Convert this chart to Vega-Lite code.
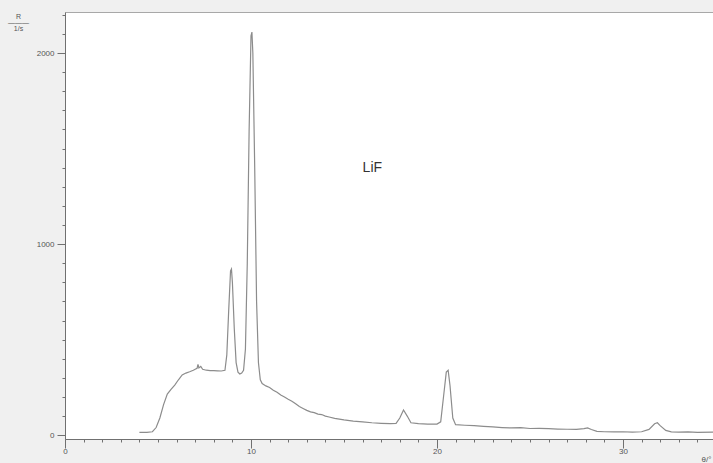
{
  "$schema": "https://vega.github.io/schema/vega-lite/v6.json",
  "autosize": "none",
  "width": 648,
  "height": 427,
  "padding": {"left": 65, "top": 12, "right": 0, "bottom": 24},
  "background": "#f0f0f0",
  "view": {"fill": "white", "stroke": "#a8a8a8", "strokeWidth": 1},
  "config": {"font": "Liberation Sans"},
  "datasets": {
    "spectrum": [
      {"x": 4.0, "y": 15}, {"x": 4.4, "y": 15}, {"x": 4.7, "y": 18}, {"x": 4.9, "y": 40},
      {"x": 5.1, "y": 90}, {"x": 5.3, "y": 160}, {"x": 5.5, "y": 215}, {"x": 5.7, "y": 240},
      {"x": 5.9, "y": 262}, {"x": 6.1, "y": 290}, {"x": 6.3, "y": 315}, {"x": 6.5, "y": 325},
      {"x": 6.7, "y": 332}, {"x": 6.9, "y": 340}, {"x": 7.0, "y": 345}, {"x": 7.1, "y": 350},
      {"x": 7.15, "y": 370}, {"x": 7.2, "y": 352}, {"x": 7.3, "y": 360}, {"x": 7.4, "y": 345},
      {"x": 7.6, "y": 340}, {"x": 7.8, "y": 338}, {"x": 8.0, "y": 338}, {"x": 8.2, "y": 337},
      {"x": 8.4, "y": 336}, {"x": 8.6, "y": 340}, {"x": 8.7, "y": 420}, {"x": 8.8, "y": 650},
      {"x": 8.9, "y": 860}, {"x": 8.95, "y": 870}, {"x": 9.0, "y": 800}, {"x": 9.1, "y": 560},
      {"x": 9.2, "y": 380}, {"x": 9.3, "y": 330}, {"x": 9.4, "y": 320}, {"x": 9.5, "y": 325},
      {"x": 9.6, "y": 340}, {"x": 9.7, "y": 450}, {"x": 9.8, "y": 900}, {"x": 9.9, "y": 1600},
      {"x": 10.0, "y": 2090}, {"x": 10.05, "y": 2110}, {"x": 10.1, "y": 2000}, {"x": 10.2, "y": 1400},
      {"x": 10.3, "y": 700}, {"x": 10.4, "y": 380}, {"x": 10.5, "y": 290}, {"x": 10.6, "y": 270},
      {"x": 10.8, "y": 258}, {"x": 11.0, "y": 250}, {"x": 11.2, "y": 235}, {"x": 11.4, "y": 225},
      {"x": 11.6, "y": 210}, {"x": 11.8, "y": 200}, {"x": 12.0, "y": 188}, {"x": 12.2, "y": 178},
      {"x": 12.4, "y": 165}, {"x": 12.6, "y": 150}, {"x": 12.8, "y": 140}, {"x": 13.0, "y": 130},
      {"x": 13.2, "y": 122}, {"x": 13.4, "y": 118}, {"x": 13.6, "y": 110}, {"x": 13.8, "y": 108},
      {"x": 14.0, "y": 100}, {"x": 14.2, "y": 95}, {"x": 14.5, "y": 88}, {"x": 15.0, "y": 80},
      {"x": 15.5, "y": 74}, {"x": 16.0, "y": 70}, {"x": 16.5, "y": 65}, {"x": 17.0, "y": 62},
      {"x": 17.5, "y": 60}, {"x": 17.8, "y": 62}, {"x": 18.0, "y": 90}, {"x": 18.2, "y": 132},
      {"x": 18.4, "y": 100}, {"x": 18.6, "y": 65}, {"x": 19.0, "y": 60}, {"x": 19.5, "y": 58},
      {"x": 20.0, "y": 58}, {"x": 20.2, "y": 70}, {"x": 20.35, "y": 200}, {"x": 20.5, "y": 330},
      {"x": 20.6, "y": 340}, {"x": 20.7, "y": 260}, {"x": 20.85, "y": 90}, {"x": 21.0, "y": 55},
      {"x": 21.5, "y": 52}, {"x": 22.0, "y": 50}, {"x": 22.5, "y": 46}, {"x": 23.0, "y": 43},
      {"x": 23.5, "y": 40}, {"x": 24.0, "y": 38}, {"x": 24.5, "y": 40}, {"x": 25.0, "y": 35},
      {"x": 25.5, "y": 36}, {"x": 26.0, "y": 34}, {"x": 26.5, "y": 32}, {"x": 27.0, "y": 31},
      {"x": 27.5, "y": 30}, {"x": 27.9, "y": 34}, {"x": 28.1, "y": 38}, {"x": 28.3, "y": 30},
      {"x": 28.6, "y": 20}, {"x": 29.0, "y": 18}, {"x": 29.5, "y": 17}, {"x": 30.0, "y": 18},
      {"x": 30.5, "y": 16}, {"x": 31.0, "y": 18}, {"x": 31.4, "y": 30}, {"x": 31.7, "y": 60},
      {"x": 31.85, "y": 65}, {"x": 32.0, "y": 50}, {"x": 32.3, "y": 25}, {"x": 32.6, "y": 17},
      {"x": 33.0, "y": 16}, {"x": 33.5, "y": 17}, {"x": 34.0, "y": 15}, {"x": 34.84, "y": 16}
    ],
    "label": [{"x": 16.0, "y": 1400, "text": "LiF"}]
  },
  "layer": [
    {
      "data": {"name": "spectrum"},
      "mark": {"type": "line", "color": "#8c8c8c", "strokeWidth": 1.2, "interpolate": "linear"},
      "encoding": {
        "x": {
          "field": "x", "type": "quantitative",
          "scale": {"domain": [0, 34.84], "nice": false, "zero": false},
          "axis": {
            "values": [0,1,2,3,4,5,6,7,8,9,10,11,12,13,14,15,16,17,18,19,20,21,22,23,24,25,26,27,28,29,30,31,32,33,34],
            "tickCount": 1000,
            "format": "d",
            "labelExpr": "datum.value % 10 === 0 ? datum.label : ''",
            "labelOverlap": false,
            "labelFlush": false,
            "tickSize": {"condition": {"test": "datum.value % 10 === 0", "value": 9}, "value": 3},
            "tickColor": "#707070",
            "domainColor": "#707070",
            "labelColor": "#555555",
            "labelFontSize": 8,
            "labelPadding": -1,
            "grid": false,
            "title": "θ/°",
            "titleFontSize": 8,
            "titleFontWeight": "normal",
            "titleColor": "#555555",
            "titleAnchor": null,
            "titleX": 636,
            "titleY": 16,
            "titleAlign": "left",
            "titleBaseline": "top"
          }
        },
        "y": {
          "field": "y", "type": "quantitative",
          "scale": {"domain": [-20, 2215], "nice": false, "zero": false},
          "axis": {
            "values": [0,100,200,300,400,500,600,700,800,900,1000,1100,1200,1300,1400,1500,1600,1700,1800,1900,2000,2100,2200],
            "tickCount": 1000,
            "labelExpr": "datum.value % 1000 === 0 ? datum.label : ''",
            "labelOverlap": false,
            "labelFlush": false,
            "format": "d",
            "tickSize": {"condition": {"test": "datum.value % 1000 === 0", "value": 8}, "value": 3},
            "tickColor": "#707070",
            "domainColor": "#707070",
            "labelColor": "#555555",
            "labelFontSize": 8,
            "labelPadding": 3,
            "grid": false,
            "title": ["R", "———", "1/s"],
            "titleFontSize": 7,
            "titleFontWeight": "normal",
            "titleColor": "#555555",
            "titleLineHeight": 6,
            "titleAngle": 0,
            "titleAnchor": null,
            "titleAlign": "center",
            "titleBaseline": "top",
            "titleX": -47,
            "titleY": 0
          }
        }
      }
    },
    {
      "data": {"name": "label"},
      "mark": {"type": "text", "fontSize": 14, "color": "#333333", "align": "left", "baseline": "middle"},
      "encoding": {
        "x": {"field": "x", "type": "quantitative"},
        "y": {"field": "y", "type": "quantitative"},
        "text": {"field": "text"}
      }
    }
  ]
}
